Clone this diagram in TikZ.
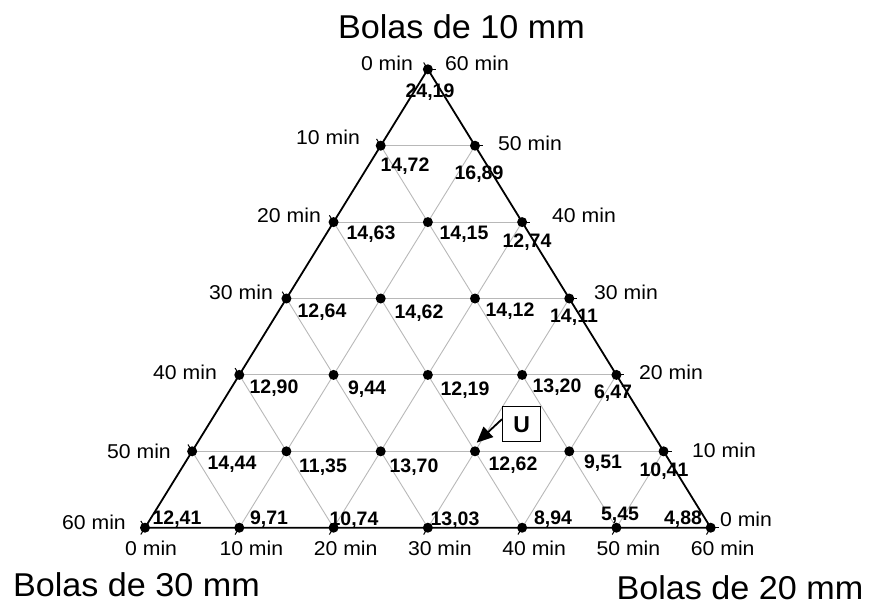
\documentclass[tikz,border=0pt]{standalone}
\usepackage{fontspec}
\setmainfont{Liberation Sans}
\newfontfamily\minf[FakeStretch=1.06]{Liberation Sans}
\newfontfamily\ttlf[FakeStretch=1.035]{Liberation Sans}
\usetikzlibrary{arrows.meta}
\begin{document}
\begin{tikzpicture}[x=1pt,y=-1pt,
  minlab/.style={inner sep=0pt, font=\minf\fontsize{20}{24}\selectfont},
  val/.style={inner sep=0pt, font=\bfseries\fontsize{19.5}{23}\selectfont},
  ttl/.style={inner sep=0pt, anchor=base, font=\ttlf\fontsize{33}{40}\selectfont},
  dotn/.style={circle, fill=black, inner sep=0pt, minimum size=10pt},
  gridline/.style={black!28, line width=0.9pt},
  edgeline/.style={line width=1.8pt, line join=miter},
  tickline/.style={line width=1pt}]
\useasboundingbox (0,0) rectangle (874,605);
% grid coordinates
\foreach \j in {0,...,6}{
  \pgfmathtruncatemacro\imax{6-\j}
  \foreach \i in {0,...,\imax}{
    \coordinate (p-\i-\j) at ({145+94.283*\i+47.142*\j},{527.7-76.4*\j});
  }
}
% inner grid
\foreach \k in {1,...,5}{
  \pgfmathtruncatemacro\m{6-\k}
  \draw[gridline] (p-0-\k) -- (p-\m-\k);
  \draw[gridline] (p-\k-0) -- (p-\k-\m);
  \draw[gridline] (p-\k-0) -- (p-0-\k);
}
% outer triangle
\draw[edgeline] (p-0-0) -- (p-6-0) -- (p-0-6) -- cycle;
% ticks
\foreach \j in {0,...,6}{
  \pgfmathtruncatemacro\m{6-\j}
  \draw[tickline] (p-0-\j) -- ++(-4.2,-6.8);
  \draw[tickline] (p-\m-\j) -- ++(8,0);
  \draw[tickline] (p-\j-0) -- ++(-4.2,6.8);
}
% dots
\foreach \j in {0,...,6}{
  \pgfmathtruncatemacro\imax{6-\j}
  \foreach \i in {0,...,\imax}{
    \node[dotn] (d-\i-\j) at (p-\i-\j) {};
  }
}
% values
\node[val] (v-0-6) at (430,92) {24,19};
\node[val] (v-0-5) at (405,166) {14,72};
\node[val] (v-1-5) at (479,174) {16,89};
\node[val] (v-0-4) at (371,234) {14,63};
\node[val] (v-1-4) at (464,234) {14,15};
\node[val] (v-2-4) at (527,242) {12,74};
\node[val] (v-0-3) at (322,312) {12,64};
\node[val] (v-1-3) at (419,313) {14,62};
\node[val] (v-2-3) at (510,311) {14,12};
\node[val] (v-3-3) at (574,317) {14,11};
\node[val] (v-0-2) at (274,388) {12,90};
\node[val] (v-1-2) at (367,389) {9,44};
\node[val] (v-2-2) at (465,390) {12,19};
\node[val] (v-3-2) at (557,387) {13,20};
\node[val] (v-4-2) at (613,393) {6,47};
\node[val] (v-0-1) at (232,464) {14,44};
\node[val] (v-1-1) at (323,467) {11,35};
\node[val] (v-2-1) at (414,467) {13,70};
\node[val] (v-3-1) at (513,465) {12,62};
\node[val] (v-4-1) at (603,463) {9,51};
\node[val] (v-5-1) at (664,471) {10,41};
\node[val] (v-0-0) at (177,519) {12,41};
\node[val] (v-1-0) at (269,519) {9,71};
\node[val] (v-2-0) at (354,520) {10,74};
\node[val] (v-3-0) at (455,520) {13,03};
\node[val] (v-4-0) at (553,519) {8,94};
\node[val] (v-5-0) at (620,515) {5,45};
\node[val] (v-6-0) at (683,519) {4,88};
% left axis labels
\node[minlab] (l0) at (387,63) {0 min};
\node[minlab] (l1) at (328,137) {10 min};
\node[minlab] (l2) at (289,215) {20 min};
\node[minlab] (l3) at (241,292) {30 min};
\node[minlab] (l4) at (185,372) {40 min};
\node[minlab] (l5) at (139,451) {50 min};
\node[minlab] (l6) at (94,522) {60 min};
% right axis labels
\node[minlab] (r6) at (477,63) {60 min};
\node[minlab] (r5) at (530,143) {50 min};
\node[minlab] (r4) at (584,215) {40 min};
\node[minlab] (r3) at (626,292) {30 min};
\node[minlab] (r2) at (671,372) {20 min};
\node[minlab] (r1) at (724,450) {10 min};
\node[minlab] (r0) at (746,519) {0 min};
% bottom axis labels
\node[minlab, anchor=west] (b0) at (125,548) {0 min};
\node[minlab, anchor=west] (b1) at (219.3,548) {10 min};
\node[minlab, anchor=west] (b2) at (313.6,548) {20 min};
\node[minlab, anchor=west] (b3) at (407.8,548) {30 min};
\node[minlab, anchor=west] (b4) at (502.1,548) {40 min};
\node[minlab, anchor=west] (b5) at (596.4,548) {50 min};
\node[minlab, anchor=west] (b6) at (690.7,548) {60 min};
% titles
\node[ttl] (t10) at (461.5,38) {Bolas de 10 mm};
\node[ttl] (t30) at (136.5,596) {Bolas de 30 mm};
\node[ttl] (t20) at (740,599) {Bolas de 20 mm};
% U marker
\node[draw, line width=1.5pt, minimum width=38pt, minimum height=35pt, inner sep=0pt,
      font=\bfseries\fontsize{23}{27}\selectfont] (U) at (521.7,424.2) {U};
\coordinate (utip) at (476.7,442.7);
\draw[line width=1.8pt, -{Triangle[length=16pt,width=14pt]}] ([yshift=5pt]U.west) -- (utip);
\end{tikzpicture}
\end{document}
